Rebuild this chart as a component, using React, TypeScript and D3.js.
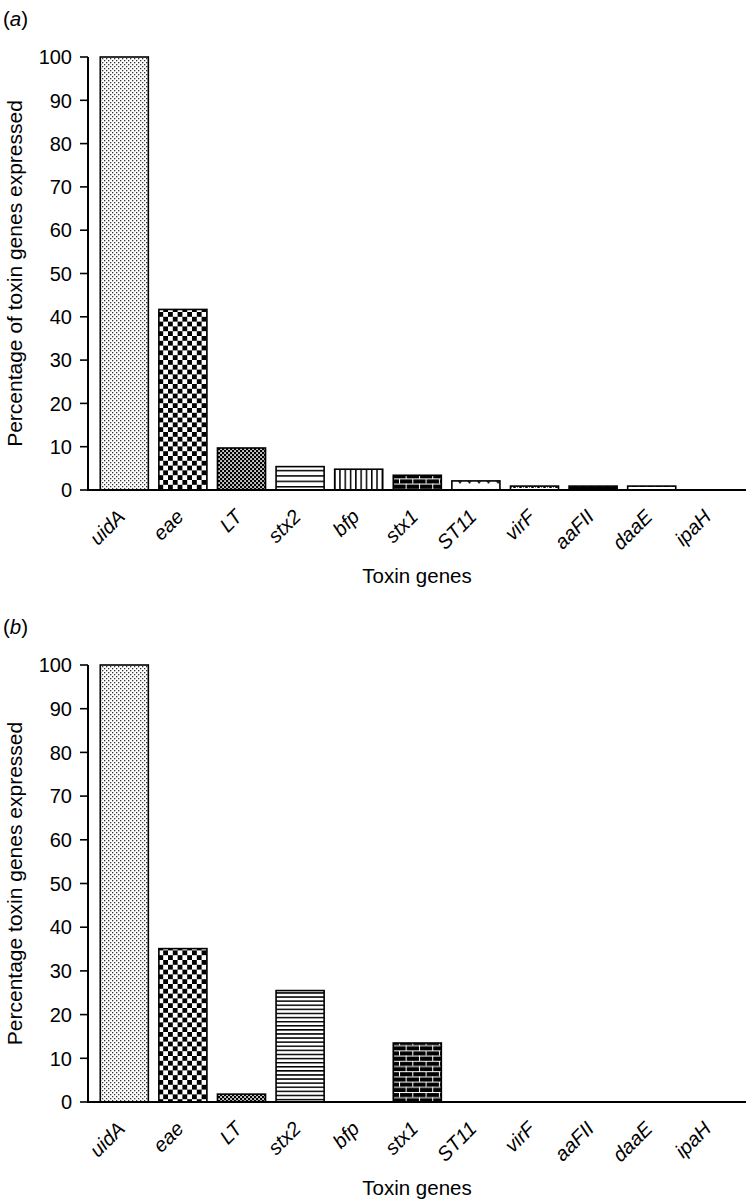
import React from 'react';
import * as d3 from 'd3';

const genes = ['uidA', 'eae', 'LT', 'stx2', 'bfp', 'stx1', 'ST11', 'virF', 'aaFII', 'daaE', 'ipaH'];
const valuesA = [100, 41.7, 9.7, 5.4, 4.8, 3.4, 2.1, 0.9, 0.9, 0.9, 0];
const valuesB = [100, 35.1, 1.8, 25.5, 0, 13.5, 0, 0, 0, 0, 0];
const patternNames = ['dots', 'check', 'fine', 'hlines', 'vlines', 'brick', 'wave', 'tri', 'dash', 'ldash', 'dots'];
const yTicks = [0, 10, 20, 30, 40, 50, 60, 70, 80, 90, 100];

const FONT = 'Liberation Sans, Arial, Helvetica, sans-serif';

type PanelProps = {
  label: string;
  yLabel: string;
  values: number[];
  yTop: number;
  yBottom: number;
  pfx: string;
};

const x = d3.scaleBand<string>().domain(genes).range([95, 739.6]).paddingInner(0.18).paddingOuter(0.09);
const AXIS_X = 88;
const AXIS_END = 746;

function Patterns({ pfx, hStep }: { pfx: string; hStep: number }) {
  return (
    <>
      <pattern id={`${pfx}-dots`} patternUnits="userSpaceOnUse" width={4} height={4}>
        <rect width={4} height={4} fill="#fff" />
        <rect x={0} y={0} width={1.3} height={1.3} fill="#333" />
        <rect x={2} y={2} width={1.3} height={1.3} fill="#333" />
      </pattern>
      <pattern id={`${pfx}-check`} patternUnits="userSpaceOnUse" width={9.6} height={9.6}>
        <rect width={9.6} height={9.6} fill="#fff" />
        <rect x={0} y={0} width={4.8} height={4.8} fill="#000" />
        <rect x={4.8} y={4.8} width={4.8} height={4.8} fill="#000" />
      </pattern>
      <pattern id={`${pfx}-fine`} patternUnits="userSpaceOnUse" width={4} height={4}>
        <rect width={4} height={4} fill="#000" />
        <rect x={0.2} y={0.2} width={1.7} height={1.7} fill="#fff" />
        <rect x={2.2} y={2.2} width={1.7} height={1.7} fill="#fff" />
      </pattern>
      <pattern id={`${pfx}-hlines`} patternUnits="userSpaceOnUse" width={8} height={hStep}>
        <rect width={8} height={hStep} fill="#fff" />
        <rect x={0} y={0} width={8} height={1.5} fill="#000" />
      </pattern>
      <pattern id={`${pfx}-vlines`} patternUnits="userSpaceOnUse" width={5.3} height={8}>
        <rect width={5.3} height={8} fill="#fff" />
        <rect x={0} y={0} width={1.5} height={8} fill="#000" />
      </pattern>
      <pattern id={`${pfx}-brick`} patternUnits="userSpaceOnUse" width={13.3} height={10.4}>
        <rect width={13.3} height={10.4} fill="#000" />
        <rect x={0} y={0} width={13.3} height={1} fill="#fff" />
        <rect x={0} y={5.2} width={13.3} height={1} fill="#fff" />
        <rect x={0} y={0} width={1} height={5.2} fill="#fff" />
        <rect x={6.65} y={5.2} width={1} height={5.2} fill="#fff" />
      </pattern>
      <pattern id={`${pfx}-wave`} patternUnits="userSpaceOnUse" width={9.5} height={9}>
        <rect width={9.5} height={9} fill="#fff" />
        <path d="M2,3 L4,6 L6,3" fill="none" stroke="#000" strokeWidth={1.2} />
      </pattern>
      <pattern id={`${pfx}-tri`} patternUnits="userSpaceOnUse" width={6} height={4}>
        <rect width={6} height={4} fill="#fff" />
        <path d="M0,1 L3,1 L1.5,4 Z" fill="#000" />
        <path d="M3,4 L4.5,1 L6,4 Z" fill="#000" />
      </pattern>
      <pattern id={`${pfx}-dash`} patternUnits="userSpaceOnUse" width={8} height={4}>
        <rect width={8} height={4} fill="#000" />
        <rect x={1} y={1.5} width={4} height={1} fill="#fff" />
      </pattern>
      <pattern id={`${pfx}-ldash`} patternUnits="userSpaceOnUse" width={8} height={4}>
        <rect width={8} height={4} fill="#fff" />
        <rect x={0} y={1.5} width={5} height={1.3} fill="#000" />
      </pattern>
    </>
  );
}

function Panel({ label, yLabel, values, yTop, yBottom, pfx }: PanelProps) {
  const y = d3.scaleLinear().domain([0, 100]).range([yBottom, yTop]);
  return (
    <g>
      <text x={3} y={yTop - 31} fontFamily={FONT} fontSize={20.5}>
        (<tspan fontStyle="italic">{label}</tspan>)
      </text>
      {genes.map((g, i) =>
        values[i] > 0 ? (
          <rect
            key={g}
            x={x(g)}
            y={y(values[i])}
            width={x.bandwidth()}
            height={y(0) - y(values[i])}
            fill={`url(#${pfx}-${patternNames[i]})`}
            stroke="#000"
            strokeWidth={1.6}
          />
        ) : null
      )}
      <line x1={AXIS_X} x2={AXIS_X} y1={y(100)} y2={y(0)} stroke="#000" strokeWidth={2} />
      <line x1={AXIS_X - 1} x2={AXIS_END} y1={y(0)} y2={y(0)} stroke="#000" strokeWidth={2} />
      {yTicks.map((t) => (
        <g key={t}>
          <line x1={AXIS_X - 8} x2={AXIS_X} y1={y(t)} y2={y(t)} stroke="#000" strokeWidth={1.6} />
          <text x={AXIS_X - 16} y={y(t)} dy="0.36em" textAnchor="end" fontFamily={FONT} fontSize={20}>
            {t}
          </text>
        </g>
      ))}
      {genes.map((g) => {
        const cx = (x(g) as number) + x.bandwidth() / 2 + 2;
        const cy = y(0) + 28;
        return (
          <text
            key={g}
            transform={`translate(${cx},${cy}) rotate(-45)`}
            textAnchor="end"
            fontFamily={FONT}
            fontSize={20}
            fontStyle="italic"
          >
            {g}
          </text>
        );
      })}
      <text x={(AXIS_X + AXIS_END) / 2} y={y(0) + 93} textAnchor="middle" fontFamily={FONT} fontSize={20.5}>
        Toxin genes
      </text>
      <text
        transform={`translate(22,${(y(0) + y(100)) / 2}) rotate(-90)`}
        textAnchor="middle"
        fontFamily={FONT}
        fontSize={21}
      >
        {yLabel}
      </text>
    </g>
  );
}

export default function App() {
  return (
    <svg width={748} height={1202} style={{ position: 'absolute', left: 0, top: 0, background: '#fff' }}>
      <defs>
        <Patterns pfx="pa" hStep={5.4} />
        <Patterns pfx="pb" hStep={4.1} />
      </defs>
      <Panel label="a" yLabel="Percentage of toxin genes expressed" values={valuesA} yTop={57} yBottom={490} pfx="pa" />
      <Panel label="b" yLabel="Percentage toxin genes expressed" values={valuesB} yTop={665} yBottom={1102} pfx="pb" />
    </svg>
  );
}
